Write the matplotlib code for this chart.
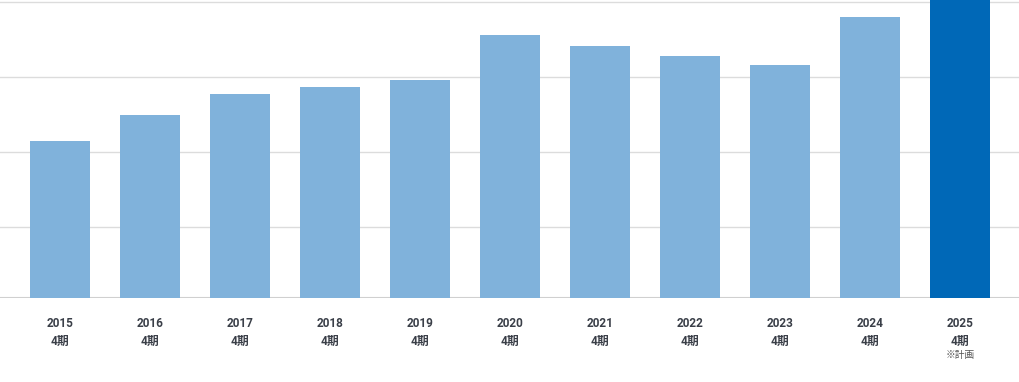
import numpy as np
import matplotlib.pyplot as plt

plt.rcParams['font.family'] = ['Roboto', 'Noto Sans CJK JP', 'DejaVu Sans']

# data (grid units)
years = ['2015', '2016', '2017', '2018', '2019', '2020', '2021', '2022', '2023', '2024', '2025']
quarter = ['4期'] * 11
values = [2.09, 2.44, 2.72, 2.81, 2.91, 3.51, 3.36, 3.22, 3.10, 3.75, 4.20]
notes = [''] * 10 + ['※計画']
grid_lines = [0.953, 1.953, 2.953, 3.953]

light = '#80b2db'
dark = '#0068b7'
colors = [light] * 10 + [dark]

fig = plt.figure(figsize=(10.2, 3.82), dpi=100)
ax = fig.add_axes([0, 1 - 298 / 382, 1, 298 / 382])

x = np.arange(len(years))
for g in grid_lines:
    ax.axhline(g, color='#dcdcdc', lw=1.0, zorder=0)
ax.axhline(0, color='#d0d0d0', lw=1.5, zorder=0)
ax.bar(x, values, width=0.667, color=colors, zorder=2)

ax.set_xlim(-0.667, 10.667)
ax.set_ylim(0, 298 / 75)
ax.axis('off')

for i in x:
    ax.annotate(years[i], (i, 0), xytext=(0, -18.7), textcoords='offset points',
                ha='center', va='center', fontsize=8.5, fontweight='bold', color='#3a3f48')
    ax.annotate(quarter[i], (i, 0), xytext=(0, -31), textcoords='offset points',
                ha='center', va='center', fontsize=8.5, fontweight='bold', color='#3a3f48')
    if notes[i]:
        ax.annotate(notes[i], (i, 0), xytext=(0, -41), textcoords='offset points',
                    ha='center', va='center', fontsize=7, color='#555555',
                    family=['Noto Sans CJK JP', 'DejaVu Sans'])

fig.savefig('out.png', dpi=100)
